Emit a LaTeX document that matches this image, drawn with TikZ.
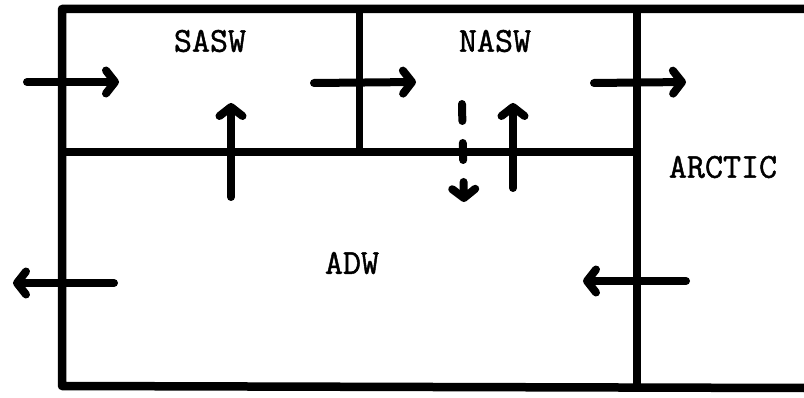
\documentclass[tikz,border=0pt]{standalone}
\usepackage{fontspec}
\newfontfamily\labfont{Latin Modern Mono}[FakeBold=1.3]
\usetikzlibrary{arrows.meta}
\tikzset{
  wall/.style={line width=8.5pt, line cap=round, line join=round},
  partition/.style={line width=7.5pt, line cap=round},
  flow/.style={line width=8pt, line cap=round,
    -{Straight Barb[length=9pt,width=23pt,round]}},
  dashedflow/.style={flow, dash pattern=on 17pt off 22pt},
  region/.style={font=\labfont\fontsize{35}{35}\selectfont, inner sep=0pt}
}
\begin{document}
\begin{tikzpicture}[x=1pt,y=-1pt]
  \useasboundingbox (0,0) rectangle (804,398);

  % boxes: outer frame open to the right, inner partitions
  \coordinate (tr) at (804,9);
  \coordinate (tl) at (62,9);
  \coordinate (bl) at (62,386);
  \coordinate (br) at (804,388);
  \draw[wall] (tr) -- (tl) -- (bl) -- (br);

  \coordinate (midL) at (62,152);
  \coordinate (midR) at (637,152);
  \draw[partition] (midL) -- (midR);
  \coordinate (divT) at (359.5,9);
  \coordinate (divB) at (359.5,152);
  \draw[partition] (divT) -- (divB);
  \coordinate (arcT) at (637,9);
  \coordinate (arcB) at (637,386);
  \draw[partition] (arcT) -- (arcB);

  % region labels
  \node[region] (sasw) at (210,41) {SASW};
  \node[region] (nasw) at (495,41) {NASW};
  \node[region] (arctic) at (723,167) {ARCTIC};
  \node[region] (adw) at (352,263) {ADW};

  % flow arrows
  \coordinate (a1s) at (27,82);   \coordinate (a1e) at (119,82);
  \coordinate (a2s) at (314,83);  \coordinate (a2e) at (416,82);
  \coordinate (a3s) at (594,83);  \coordinate (a3e) at (686,82);
  \coordinate (a4s) at (231,197); \coordinate (a4e) at (231,103);
  \coordinate (a5s) at (462,104); \coordinate (a5e) at (464,202);
  \coordinate (a6s) at (513,188); \coordinate (a6e) at (513,103);
  \coordinate (a7s) at (114,283); \coordinate (a7e) at (13,283);
  \coordinate (a8s) at (686,281); \coordinate (a8e) at (583,281);

  \draw[flow] (a1s) -- (a1e);
  \draw[flow] (a2s) -- (a2e);
  \draw[flow] (a3s) -- (a3e);
  \draw[flow] (a4s) -- (a4e);
  \draw[dashedflow] (a5s) -- (a5e);
  \draw[flow] (a6s) -- (a6e);
  \draw[flow] (a7s) -- (a7e);
  \draw[flow] (a8s) -- (a8e);
\end{tikzpicture}
\end{document}
